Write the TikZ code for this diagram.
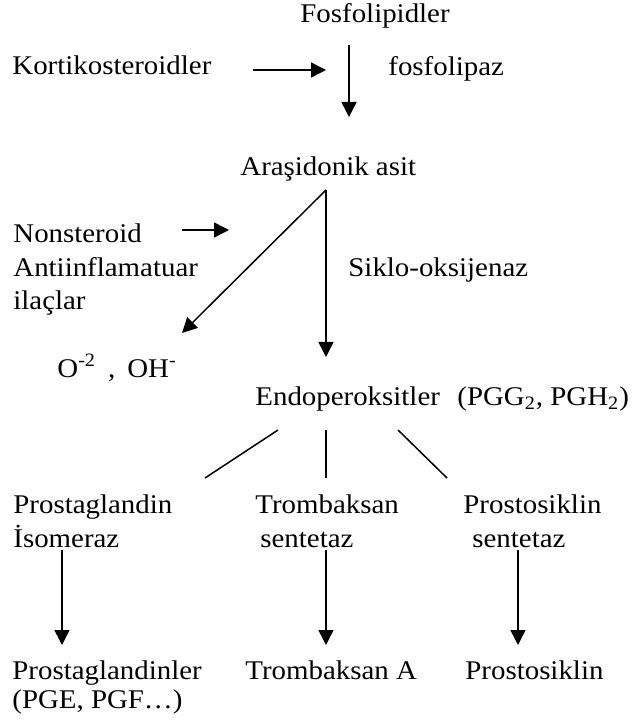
\documentclass[tikz,border=0pt]{standalone}
\usepackage{fontspec}
\setmainfont{Liberation Serif}[FakeStretch=1.07]
\usetikzlibrary{arrows.meta}

\begin{document}
\begin{tikzpicture}[
        x=0.5pt, y=-0.5pt,
        txt/.style={inner sep=0pt, anchor=base west, align=left, font=\fontsize{13.5}{16.75}\selectfont},
        enzyme/.style={txt, font=\fontsize{13.5}{17}\selectfont},
        product/.style={txt, font=\fontsize{13.5}{14.5}\selectfont},
        arrow/.style={-{Triangle[length=7.5pt, width=7.5pt]}, line width=0.75pt},
        branch/.style={line width=0.75pt}
    ]
    \useasboundingbox (0,0) rectangle (636,726);

    % Phospholipids to arachidonic acid
    \node[txt] (fosfo) at (300,23) {Fosfolipidler};
    \node[txt] (korti) at (12,75) {Kortikosteroidler};
    \node[txt] (lipaz) at (388,76) {fosfolipaz};
    \node[txt] (arasi) at (240,176) {Araşidonik asit};

    % Cyclo-oxygenase step (multi-line nodes sit on their last line)
    \node[txt] (nsaid) at (13,310) {Nonsteroid\\Antiinflamatuar\\ilaçlar};
    \node[txt] (cox) at (348,277) {Siklo-oksijenaz};
    \node[txt] (radik) at (57,377) {O\textsuperscript{-2}\hspace{6pt},\hspace{6pt}OH\textsuperscript{-}};
    \node[txt] (endo) at (255,405) {Endoperoksitler};
    \node[txt] (pgg) at (457,405) {(PGG\textsubscript{2}, PGH\textsubscript{2})};

    % Synthases
    \node[enzyme] (iso) at (13,547) {Prostaglandin\\İsomeraz};
    \node[enzyme] (txs) at (255,547) {Trombaksan\\\hspace*{2.5pt}sentetaz};
    \node[enzyme] (pgis) at (463,547) {Prostosiklin\\\hspace*{4.5pt}sentetaz};

    % Products
    \node[product] (pgs) at (12,708) {Prostaglandinler\\(PGE, PGF…)};
    \node[product] (txa) at (245,679) {Trombaksan A};
    \node[product] (pgi) at (465,679) {Prostosiklin};

    % Arrow ends
    \coordinate (korti-e) at (253,70);
    \coordinate (lipaz-w) at (326,70);
    \coordinate (fosfo-s) at (349,45);
    \coordinate (arasi-n) at (349,117);
    \coordinate (arasi-s) at (326,190);
    \coordinate (nsaid-e) at (182,230);
    \coordinate (cox-w) at (229,230);
    \coordinate (radik-n) at (182,333);
    \coordinate (endo-n) at (326,357);
    \coordinate (endo-sw) at (278,430);
    \coordinate (endo-s) at (326,430);
    \coordinate (endo-se) at (398,430);
    \coordinate (iso-n) at (205,478);
    \coordinate (txs-n) at (326,478);
    \coordinate (pgis-n) at (447,478);
    \coordinate (iso-s) at (62,550);
    \coordinate (pgs-n) at (62,645);
    \coordinate (txs-s) at (326,550);
    \coordinate (txa-n) at (326,645);
    \coordinate (pgis-s) at (518,550);
    \coordinate (pgi-n) at (518,645);

    % Arrows
    \draw[arrow] (korti-e) -- (lipaz-w);
    \draw[arrow] (fosfo-s) -- (arasi-n);
    \draw[arrow] (nsaid-e) -- (cox-w);
    \draw[arrow] (arasi-s) -- (radik-n);
    \draw[arrow] (arasi-s) -- (endo-n);
    \draw[branch] (endo-sw) -- (iso-n);
    \draw[branch] (endo-s) -- (txs-n);
    \draw[branch] (endo-se) -- (pgis-n);
    \draw[arrow] (iso-s) -- (pgs-n);
    \draw[arrow] (txs-s) -- (txa-n);
    \draw[arrow] (pgis-s) -- (pgi-n);

\end{tikzpicture}
\end{document}
